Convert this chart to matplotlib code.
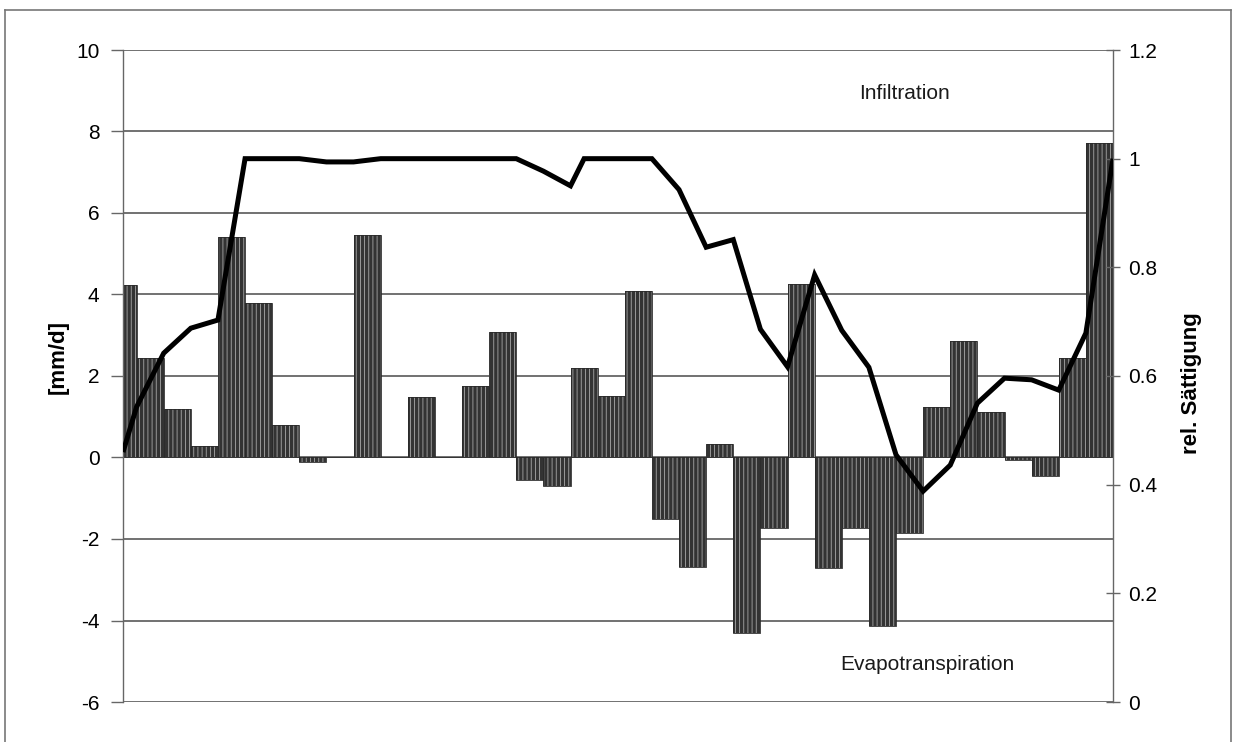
import matplotlib
matplotlib.use("Agg")
import matplotlib.pyplot as plt
from matplotlib.lines import Line2D
import numpy as np

# Daily water balance [mm/d]: positive = infiltration, negative = evapotranspiration
flux = [4.23, 2.44, 1.19, 0.29, 5.41, 3.79, 0.80, -0.11, 0.0, 5.47,
        0.0, 1.49, 0.0, 1.75, 3.08, -0.55, -0.70, 2.20, 1.50, 4.09,
        -1.51, -2.68, 0.33, -4.31, -1.72, 4.26, -2.70, -1.73, -4.13, -1.85,
        1.25, 2.87, 1.12, -0.05, -0.45, 2.45, 7.71]

# Relative saturation, sampled at the day boundaries
sat_t = [0.0, 0.5, 1.5, 2.5, 3.5, 4.5, 5.5, 6.5, 7.5, 8.5,
         9.5, 10.5, 11.5, 12.5, 13.5, 14.5, 15.5, 16.5, 17.0, 17.5,
         18.5, 19.5, 20.5, 21.5, 22.5, 23.5, 24.5, 25.5, 26.5, 27.5,
         28.5, 29.5, 30.5, 31.5, 32.5, 33.5, 34.5, 35.5, 36.5]
sat = [0.46, 0.543, 0.642, 0.688, 0.703, 1.0, 1.0, 1.0, 0.994, 0.994,
       1.0, 1.0, 1.0, 1.0, 1.0, 1.0, 0.977, 0.95, 1.0, 1.0,
       1.0, 1.0, 0.943, 0.837, 0.851, 0.686, 0.617, 0.786, 0.684, 0.616,
       0.455, 0.388, 0.436, 0.55, 0.596, 0.593, 0.574, 0.679, 1.0]

left_ticks = [-6, -4, -2, 0, 2, 4, 6, 8, 10]
right_ticks = [0, 0.2, 0.4, 0.6, 0.8, 1, 1.2]
right_labels = ["0", "0.2", "0.4", "0.6", "0.8", "1", "1.2"]

FONT = ["Liberation Sans", "DejaVu Sans"]
NARROW = ["Liberation Sans Narrow", "Liberation Sans", "DejaVu Sans"]
plt.rcParams["font.family"] = FONT
plt.rcParams["hatch.linewidth"] = 0.6

fig = plt.figure(figsize=(12.35, 7.42), dpi=100)
ax = fig.add_axes([123 / 1235, 1 - 702 / 742, (1113 - 123) / 1235, (702 - 50) / 742])

x = np.arange(len(flux))
ax.bar(x, flux, width=1.0, color="#333333", edgecolor="#a8a8a8",
       hatch="||||", linewidth=0, zorder=2)
ax.bar(x, flux, width=1.0, facecolor="none", edgecolor="#2a2a2a",
       linewidth=0.6, zorder=2.1)

ax.set_xlim(0, 36.5)
ax.set_ylim(-6, 10)
ax.set_yticks(left_ticks)
ax.set_yticklabels([str(v) for v in left_ticks])
ax.set_xticks([])
ax.yaxis.grid(True, color="#4a4a4a", linewidth=1.1)
ax.set_axisbelow(True)
ax.tick_params(axis="y", direction="out", length=9, width=1.0, color="#666666",
               labelsize=15, pad=8)
for side in ["top", "bottom", "right"]:
    ax.spines[side].set_visible(False)
ax.spines["left"].set_color("#666666")
ax.spines["left"].set_linewidth(1.0)

ax2 = ax.twinx()
ax2.plot(sat_t, sat, color="black", linewidth=3.6, solid_joinstyle="miter",
         solid_capstyle="butt", zorder=5)
ax2.set_ylim(0, 1.2)
ax2.set_yticks(right_ticks)
ax2.set_yticklabels(right_labels)
ax2.tick_params(axis="y", direction="inout", length=10, width=1.0, color="#666666",
                labelsize=15, pad=6)
for side in ["top", "bottom", "left"]:
    ax2.spines[side].set_visible(False)
ax2.spines["right"].set_color("#666666")
ax2.spines["right"].set_linewidth(1.0)

ax.text(28.8, 8.94, "Infiltration", fontsize=15, ha="center", va="center",
        color="#1a1a1a")
ax.text(29.65, -5.09, "Evapotranspiration", fontsize=15, ha="center", va="center",
        color="#1a1a1a")

fig.text(58 / 1235, 1 - 357 / 742, "[mm/d]", rotation=90, fontsize=16,
         fontweight="bold", family=NARROW, ha="center", va="center")
fig.text(1191 / 1235, 1 - 383 / 742, "rel. Sättigung", rotation=90, fontsize=16,
         fontweight="bold", family=NARROW, ha="center", va="center")

# frame around the figure
frame_kw = dict(color="#777777", linewidth=1.2, transform=fig.transFigure)
fig.add_artist(Line2D([5 / 1235, 5 / 1235], [0, 1 - 10 / 742], **frame_kw))
fig.add_artist(Line2D([5 / 1235, 1231 / 1235], [1 - 10 / 742, 1 - 10 / 742], **frame_kw))
fig.add_artist(Line2D([1231 / 1235, 1231 / 1235], [0, 1 - 10 / 742], **frame_kw))

fig.savefig("out.png", dpi=100)
